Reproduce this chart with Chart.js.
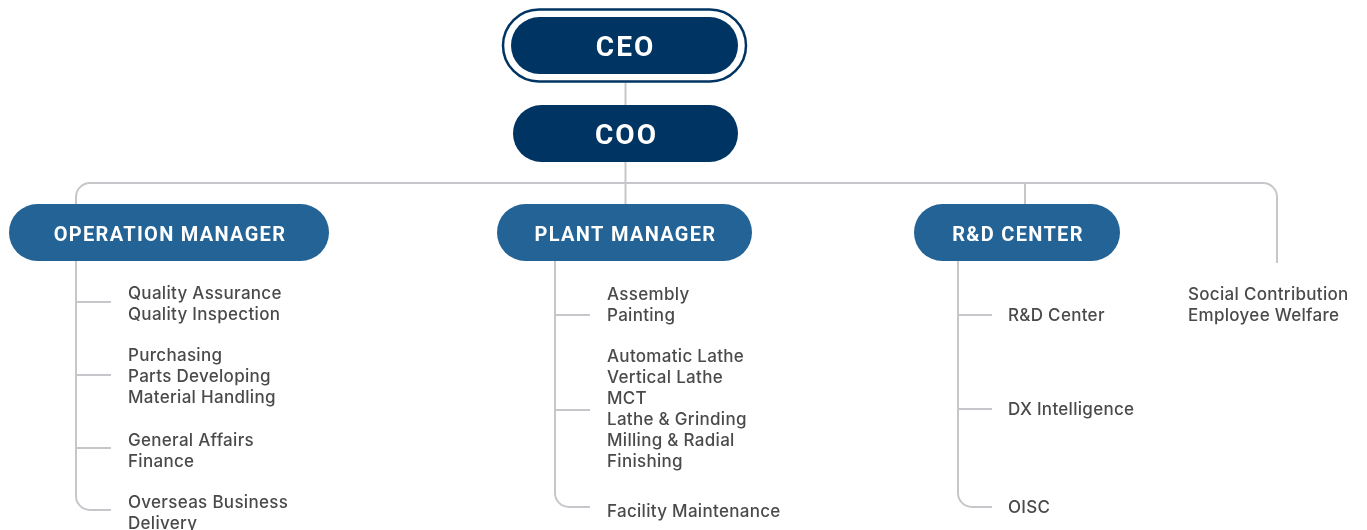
<!DOCTYPE html>
<html>
<head>
<meta charset="utf-8">
<script src="https://cdn.jsdelivr.net/npm/chart.js@4.4.1/dist/chart.umd.min.js"></script>
<style>
  html, body { margin: 0; padding: 0; background: #ffffff; }
  #wrap { width: 1367px; height: 530px; }
</style>
</head>
<body>
<div id="wrap"><canvas id="orgChart" width="1367" height="530"></canvas></div>
<script>
// Chart content
const topTitles = ['CEO', 'COO'];
const managerTitles = ['OPERATION MANAGER', 'PLANT MANAGER', 'R&D CENTER'];
const operationTeams = [
    ['Quality Assurance', 'Quality Inspection'],
    ['Purchasing', 'Parts Developing', 'Material Handling'],
    ['General Affairs', 'Finance'],
    ['Overseas Business', 'Delivery']
];
const plantTeams = [
    ['Assembly', 'Painting'],
    ['Automatic Lathe', 'Vertical Lathe', 'MCT', 'Lathe & Grinding', 'Milling & Radial', 'Finishing'],
    ['Facility Maintenance']
];
const rndTeams = [
    ['R&D Center'],
    ['DX Intelligence'],
    ['OISC']
];
const directTeams = ['Social Contribution', 'Employee Welfare'];

// Layout (data units = pixels of the 1367 x 530 scale)
const topBoxes = [
    { x1: 511, x2: 738, y1: 17, y2: 74 },
    { x1: 513, x2: 738, y1: 105, y2: 162 }
];
const managerBoxes = [
    { x1: 9, x2: 329, y1: 204, y2: 261 },
    { x1: 497, x2: 752, y1: 204, y2: 261 },
    { x1: 914, x2: 1120, y1: 204, y2: 261 }
];
const spineX = [76, 555, 958];
const tickEndX = [111, 590, 992];
const textX = [128, 607, 1008];
const branchY = [[302, 375, 448, 510], [315, 410, 507], [315, 409, 507]];
const firstLineY = [[293, 355, 440, 502], [294, 356, 511], [315, 409, 507]];
const lineGap = 21;
const busY = 183;
const busLeft = 76;
const busRight = 1277;
const busRightEnd = 263;
const directX = 1188;
const directY = 294;

const navy = '#003462';
const blue = '#236396';
const lineColor = '#c6c6cb';
const textColor = '#4a4a4a';

const teamGroups = [operationTeams, plantTeams, rndTeams];

function pill(ctx, xs, ys, b) {
    const x1 = xs.getPixelForValue(b.x1), x2 = xs.getPixelForValue(b.x2);
    const y1 = ys.getPixelForValue(b.y1), y2 = ys.getPixelForValue(b.y2);
    const h = y2 - y1;
    ctx.beginPath();
    ctx.roundRect(x1, y1, x2 - x1, h, h / 2);
}

const orgPlugin = {
    id: 'orgPlugin',
    afterDatasetsDraw(chart) {
        const ctx = chart.ctx;
        const xs = chart.scales.x, ys = chart.scales.y;
        const px = v => xs.getPixelForValue(v);
        const py = v => ys.getPixelForValue(v);
        ctx.save();

        // connectors
        ctx.strokeStyle = lineColor;
        ctx.lineWidth = 2;
        ctx.lineCap = 'butt';
        const r = 14;
        const midX = (topBoxes[1].x1 + topBoxes[1].x2) / 2;

        // CEO -> COO -> plant manager
        ctx.beginPath();
        ctx.moveTo(px(midX), py(topBoxes[0].y2 + 9));
        ctx.lineTo(px(midX), py(managerBoxes[1].y1));
        ctx.stroke();

        // the bus
        ctx.beginPath();
        ctx.moveTo(px(busLeft), py(managerBoxes[0].y1));
        ctx.arcTo(px(busLeft), py(busY), px(busLeft + r), py(busY), r);
        ctx.arcTo(px(busRight), py(busY), px(busRight), py(busY + r), r);
        ctx.lineTo(px(busRight), py(busRightEnd));
        ctx.stroke();

        // R&D drop
        const rndMid = 1025;
        ctx.beginPath();
        ctx.moveTo(px(rndMid), py(busY));
        ctx.lineTo(px(rndMid), py(managerBoxes[2].y1));
        ctx.stroke();

        // spines with branches
        teamGroups.forEach((groups, i) => {
            const ys2 = branchY[i];
            const last = ys2[ys2.length - 1];
            ctx.beginPath();
            ctx.moveTo(px(spineX[i]), py(managerBoxes[i].y2));
            ctx.arcTo(px(spineX[i]), py(last), px(spineX[i] + r), py(last), r);
            ctx.lineTo(px(tickEndX[i]), py(last));
            ctx.stroke();
            ys2.slice(0, -1).forEach(by => {
                ctx.beginPath();
                ctx.moveTo(px(spineX[i]), py(by));
                ctx.lineTo(px(tickEndX[i]), py(by));
                ctx.stroke();
            });
        });

        // CEO ring
        ctx.strokeStyle = navy;
        ctx.lineWidth = 2.5;
        pill(ctx, xs, ys, { x1: 503, x2: 746, y1: 9.5, y2: 81.5 });
        ctx.fillStyle = '#ffffff';
        ctx.fill();
        ctx.stroke();

        // boxes
        ctx.textAlign = 'center';
        ctx.textBaseline = 'middle';
        ctx.letterSpacing = '2px';
        topBoxes.forEach((b, i) => {
            pill(ctx, xs, ys, b);
            ctx.fillStyle = navy;
            ctx.fill();
            ctx.fillStyle = '#ffffff';
            ctx.font = 'bold 28px Roboto';
            ctx.fillText(topTitles[i], px((b.x1 + b.x2) / 2 + 1), py((b.y1 + b.y2) / 2 + 3));
        });
        ctx.letterSpacing = '1.3px';
        managerBoxes.forEach((b, i) => {
            pill(ctx, xs, ys, b);
            ctx.fillStyle = blue;
            ctx.fill();
            ctx.fillStyle = '#ffffff';
            ctx.font = 'bold 20px Roboto';
            ctx.fillText(managerTitles[i], px((b.x1 + b.x2) / 2 + 1), py((b.y1 + b.y2) / 2 + 3));
        });

        // team names
        ctx.letterSpacing = '0.3px';
        ctx.textAlign = 'left';
        ctx.fillStyle = textColor;
        ctx.font = '500 17px Inter';
        teamGroups.forEach((groups, i) => {
            groups.forEach((names, g) => {
                names.forEach((name, k) => {
                    ctx.fillText(name, px(textX[i]), py(firstLineY[i][g] + k * lineGap + 1));
                });
            });
        });
        directTeams.forEach((name, k) => {
            ctx.fillText(name, px(directX), py(directY + k * lineGap + 1));
        });

        ctx.restore();
    }
};

// anchor points for the hidden scales
const anchors = managerBoxes.concat(topBoxes).map(b => ({ x: (b.x1 + b.x2) / 2, y: (b.y1 + b.y2) / 2 }));

const ctx = document.getElementById('orgChart').getContext('2d');
const myChart = new Chart(ctx, {
    type: 'scatter',
    data: {
        datasets: [{
            data: anchors,
            pointRadius: 0,
            pointHoverRadius: 0
        }]
    },
    options: {
        responsive: false,
        animation: false,
        layout: { padding: 0 },
        plugins: {
            legend: { display: false },
            tooltip: { enabled: false }
        },
        scales: {
            x: { type: 'linear', min: 0, max: 1367, display: false },
            y: { type: 'linear', min: 0, max: 530, reverse: true, display: false }
        }
    },
    plugins: [orgPlugin]
});
</script>
</body>
</html>
